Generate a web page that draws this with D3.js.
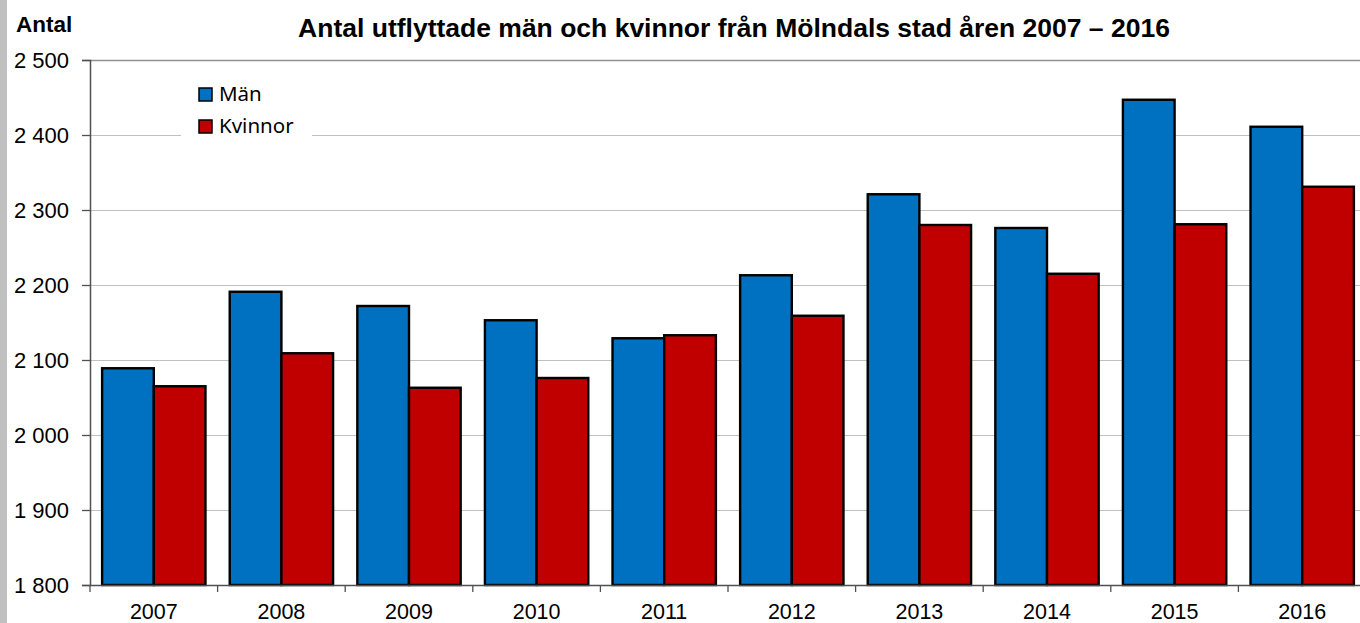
<!DOCTYPE html>
<html>
<head>
<meta charset="utf-8">
<script src="https://cdn.jsdelivr.net/npm/d3@7"></script>
<style>
  body { margin: 0; background: #fff; }
  svg { display: block; }
</style>
</head>
<body>
<svg width="1360" height="623"></svg>
<script>
// data
const years = ['2007', '2008', '2009', '2010', '2011', '2012', '2013', '2014', '2015', '2016']
const man = [2089, 2191, 2172, 2153, 2129, 2213, 2321, 2276, 2447, 2411]
const kvinnor = [2065, 2109, 2063, 2076, 2133, 2159, 2280, 2215, 2281, 2331]
const seriesNames = ['Män', 'Kvinnor']
const yTicks = [1800, 1900, 2000, 2100, 2200, 2300, 2400, 2500]

const svg = d3.select('svg')
const width = 1360
const height = 623
const margin = { left: 90, top: 60, bottom: 585 }
const step = 127.6
const arial = 'Liberation Sans, Arial, sans-serif'

// gray strip on the far left
svg.append('rect').attr('x', 0).attr('y', 0).attr('width', 7).attr('height', height).attr('fill', '#c0c0c0')

const x = d3.scaleBand()
    .domain(years)
    .range([margin.left, margin.left + step * years.length])
    .paddingInner(0.19)
    .paddingOuter(0.095)

const xSub = d3.scaleBand().domain(seriesNames).range([0, x.bandwidth()])

const y = d3.scaleLinear().domain([1800, 2500]).range([margin.bottom, margin.top])

const locale = d3.formatLocale({ decimal: ',', thousands: ' ', grouping: [3] })
const fmt = locale.format(',d')

// gridlines
svg.append('g')
    .selectAll('line')
    .data(yTicks.slice(1, -1))
    .join('line')
    .attr('x1', margin.left).attr('x2', width)
    .attr('y1', d => y(d) + 0.5).attr('y2', d => y(d) + 0.5)
    .attr('stroke', '#c0c0c0')
    .attr('stroke-width', 1)

// top border
svg.append('line')
    .attr('x1', margin.left).attr('x2', width)
    .attr('y1', margin.top + 0.5).attr('y2', margin.top + 0.5)
    .attr('stroke', '#909090')
    .attr('stroke-width', 1.3)

// bars
const groups = svg.append('g')
    .selectAll('g')
    .data(years.map((yr, i) => ({ yr, values: [man[i], kvinnor[i]] })))
    .join('g')
    .attr('transform', d => `translate(${x(d.yr)},0)`)

const colors = ['#0070c0', '#c00000']
groups.selectAll('rect')
    .data(d => d.values.map((v, i) => ({ name: seriesNames[i], v, i })))
    .join('rect')
    .attr('x', d => xSub(d.name))
    .attr('width', xSub.bandwidth())
    .attr('y', d => y(d.v))
    .attr('height', d => y(1800) - y(d.v))
    .attr('fill', d => colors[d.i])
    .attr('stroke', '#000')
    .attr('stroke-width', 2.4)

// y axis
const yAxis = svg.append('g')
    .attr('transform', `translate(${margin.left},0)`)
    .call(d3.axisLeft(y).tickValues(yTicks).tickFormat(fmt).tickSize(8).tickPadding(13))
yAxis.select('.domain').attr('stroke', '#505050').attr('stroke-width', 1.5)
yAxis.selectAll('.tick line').attr('stroke', '#505050').attr('stroke-width', 1.3)
yAxis.selectAll('text')
    .attr('font-family', arial)
    .attr('font-size', 22)
    .attr('fill', '#000')

// x axis: ticks at category boundaries
const xAxisG = svg.append('g')
svg.append('line')
    .attr('x1', margin.left).attr('x2', width)
    .attr('y1', margin.bottom + 0.5).attr('y2', margin.bottom + 0.5)
    .attr('stroke', '#505050').attr('stroke-width', 1.5)
xAxisG.selectAll('line')
    .data(d3.range(years.length + 1))
    .join('line')
    .attr('x1', i => margin.left + i * step).attr('x2', i => margin.left + i * step)
    .attr('y1', margin.bottom).attr('y2', margin.bottom + 7)
    .attr('stroke', '#505050').attr('stroke-width', 1.3)
xAxisG.selectAll('text')
    .data(years)
    .join('text')
    .attr('x', d => x(d) + x.bandwidth() / 2)
    .attr('y', 619)
    .attr('text-anchor', 'middle')
    .attr('font-family', arial)
    .attr('font-size', 21.5)
    .text(d => d)

// axis title and chart title
svg.append('text')
    .attr('x', 16).attr('y', 32)
    .attr('font-family', arial)
    .attr('font-size', 22.5).attr('font-weight', 'bold')
    .text('Antal')

svg.append('text')
    .attr('x', 734).attr('y', 37)
    .attr('text-anchor', 'middle')
    .attr('font-family', arial)
    .attr('font-size', 26.5).attr('font-weight', 'bold')
    .text('Antal utflyttade män och kvinnor från Mölndals stad åren 2007 – 2016')

// legend
const legend = svg.append('g')
legend.append('rect')
    .attr('x', 181).attr('y', 74).attr('width', 131).attr('height', 72)
    .attr('fill', '#fff')
seriesNames.forEach((name, i) => {
    legend.append('rect')
        .attr('x', 199).attr('y', 88 + i * 32).attr('width', 13).attr('height', 13)
        .attr('fill', colors[i]).attr('stroke', '#000').attr('stroke-width', 1.5)
    legend.append('text')
        .attr('x', 219).attr('y', 101 + i * 32)
        .attr('font-family', 'Noto Sans, Open Sans, sans-serif')
        .attr('font-size', 20.5)
        .text(name)
})
</script>
</body>
</html>
